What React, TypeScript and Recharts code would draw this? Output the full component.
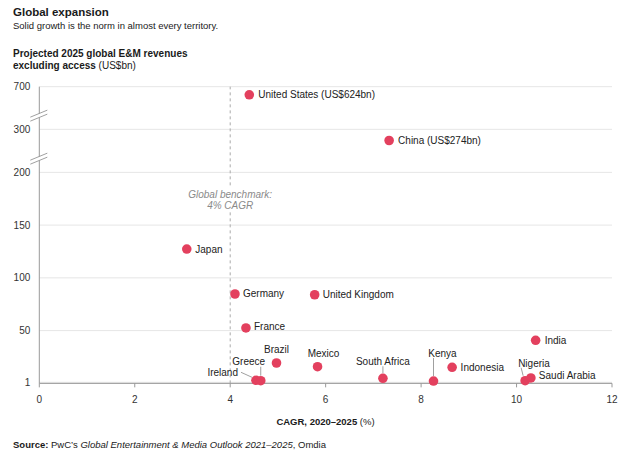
import React from "react";
import {
  ScatterChart,
  Scatter,
  XAxis,
  YAxis,
  CartesianGrid,
  ReferenceLine,
  ReferenceDot,
} from "recharts";

// CAGR 2020–2025 (%) and projected 2025 revenues (US$bn)
const countries = [
  "United States",
  "China",
  "Japan",
  "Germany",
  "United Kingdom",
  "France",
  "India",
  "Brazil",
  "Mexico",
  "Indonesia",
  "Kenya",
  "South Africa",
  "Ireland",
  "Greece",
  "Nigeria",
  "Saudi Arabia",
];
const cagr = [4.4, 7.33, 3.09, 4.1, 5.77, 4.33, 10.4, 4.97, 5.83, 8.65, 8.26, 7.2, 4.54, 4.64, 10.18, 10.3];
const revenue = [624, 274, 127.3, 84.7, 84.0, 52.5, 40.8, 19.3, 15.8, 15.2, 2.2, 4.8, 2.9, 2.5, 2.5, 5.1];
const pointLabels = [
  "United States (US$624bn)",
  "China (US$274bn)",
  "Japan",
  "Germany",
  "United Kingdom",
  "France",
  "India",
  "Brazil",
  "Mexico",
  "Indonesia",
  "Kenya",
  "South Africa",
  "Ireland",
  "Greece",
  "Nigeria",
  "Saudi Arabia",
];

const xTicks = [0, 2, 4, 6, 8, 10, 12];
const yTickValues = [1, 50, 100, 150, 200, 300, 700];
const benchmark = 4;

// broken y axis: value -> axis units (linear up to 200, then two squeezed bands)
const yAnchors: [number, number][] = [
  [0, 0],
  [200, 200],
  [300, 240.8],
  [700, 281.2],
];
const toAxis = (v: number) => {
  for (let i = 1; i < yAnchors.length; i++) {
    const [v0, a0] = yAnchors[i - 1];
    const [v1, a1] = yAnchors[i];
    if (v <= v1 || i === yAnchors.length - 1) {
      return a0 + ((v - v0) / (v1 - v0)) * (a1 - a0);
    }
  }
  return v;
};
const yBreaks = [toAxis(233), toAxis(433)];

const data = countries.map((name, i) => ({
  name,
  label: pointLabels[i],
  x: cagr[i],
  y: toAxis(revenue[i]),
}));

const RED = "#E3405E";
const FONT = "'Liberation Sans', Arial, sans-serif";

type Place = { dx: number; dy: number; anchor: "start" | "middle" | "end"; leader?: number[] };
const place: Record<string, Place> = {
  "United States": { dx: 9, dy: 0, anchor: "start" },
  China: { dx: 9, dy: 0, anchor: "start" },
  Japan: { dx: 8.5, dy: 0, anchor: "start" },
  Germany: { dx: 8, dy: 0, anchor: "start" },
  "United Kingdom": { dx: 8, dy: 0, anchor: "start" },
  France: { dx: 8, dy: -1.5, anchor: "start" },
  India: { dx: 9, dy: 0, anchor: "start" },
  Indonesia: { dx: 8.5, dy: 0, anchor: "start" },
  "Saudi Arabia": { dx: 8, dy: -2.5, anchor: "start" },
  Brazil: { dx: 0, dy: -13, anchor: "middle" },
  Mexico: { dx: 6, dy: -13, anchor: "middle" },
  Greece: { dx: -12, dy: -19, anchor: "middle", leader: [0, -14, 0, -5] },
  Ireland: { dx: -18, dy: -8, anchor: "end", leader: [-15, -8, -4, -3] },
  "South Africa": { dx: 0, dy: -17, anchor: "middle", leader: [0, -12, 0, -5] },
  Kenya: { dx: 9, dy: -28, anchor: "middle", leader: [0, -23, 0, -5] },
  Nigeria: { dx: -7, dy: -17.5, anchor: "start", leader: [-4, -13, -2, -5] },
};

const PointMark = (props: any) => {
  const { cx, cy, payload } = props;
  const p = place[payload.name];
  return (
    <g>
      {p.leader && (
        <line
          x1={cx + p.leader[0]}
          y1={cy + p.leader[1]}
          x2={cx + p.leader[2]}
          y2={cy + p.leader[3]}
          stroke="#888"
          strokeWidth={0.8}
        />
      )}
      <circle cx={cx} cy={cy} r={4.8} fill={RED} />
      <text
        x={cx + p.dx}
        y={cy + p.dy}
        dy="0.35em"
        textAnchor={p.anchor}
        fontSize={10}
        fill="#222"
        fontFamily={FONT}
      >
        {payload.label}
      </text>
    </g>
  );
};

const BreakMark = (props: any) => {
  const { cx, cy } = props;
  return (
    <g>
      <polygon
        points={`${cx - 9},${cy + 2} ${cx + 8},${cy - 5} ${cx + 8},${cy - 1} ${cx - 9},${cy + 6}`}
        fill="#fff"
      />
      <line x1={cx - 9} y1={cy + 2} x2={cx + 8} y2={cy - 5} stroke="#888" strokeWidth={0.8} />
      <line x1={cx - 9} y1={cy + 6} x2={cx + 8} y2={cy - 1} stroke="#888" strokeWidth={0.8} />
    </g>
  );
};

const BenchmarkLabel = (props: any) => {
  const { cx, cy } = props;
  return (
    <g>
      <rect x={cx - 45} y={cy - 12} width={90} height={24} fill="#fff" />
      <text x={cx} y={cy - 5} dy="0.35em" textAnchor="middle" fontSize={10} fontStyle="italic" fill="#8a8a8a" fontFamily={FONT}>
        Global benchmark:
      </text>
      <text x={cx} y={cy + 6} dy="0.35em" textAnchor="middle" fontSize={10} fontStyle="italic" fill="#8a8a8a" fontFamily={FONT}>
        {benchmark}% CAGR
      </text>
    </g>
  );
};

export default function App() {
  return (
    <div
      style={{
        position: "absolute",
        left: 0,
        top: 0,
        width: 640,
        height: 458,
        background: "#fff",
        fontFamily: FONT,
        color: "#1a1a1a",
      }}
    >
      <div style={{ position: "absolute", left: 13, top: 6, fontSize: 11.5, fontWeight: 700 }}>Global expansion</div>
      <div style={{ position: "absolute", left: 13, top: 20, fontSize: 9.5 }}>
        Solid growth is the norm in almost every territory.
      </div>
      <div style={{ position: "absolute", left: 13, top: 48, fontSize: 10, lineHeight: "12px" }}>
        <b>Projected 2025 global E&amp;M revenues</b>
        <br />
        <b>excluding access</b> (US$bn)
      </div>

      <ScatterChart width={640} height={458} margin={{ top: 86.7, right: 28, bottom: 44.65, left: 0 }}>
        <CartesianGrid vertical={false} stroke="#e6e6e6" />
        <XAxis
          type="number"
          dataKey="x"
          domain={[0, 12]}
          ticks={xTicks}
          height={30}
          tickSize={4}
          tickMargin={9}
          stroke="#999"
          tick={{ fill: "#333", fontSize: 10, fontFamily: FONT }}
        />
        <YAxis
          type="number"
          dataKey="y"
          domain={[0, toAxis(700)]}
          ticks={yTickValues.map(toAxis)}
          tickFormatter={(_v: number, i: number) => String(yTickValues[i])}
          width={39.3}
          tickSize={0}
          tickLine={false}
          tickMargin={9}
          stroke="#999"
          tick={{ fill: "#333", fontSize: 10, fontFamily: FONT }}
        />
        <ReferenceLine x={benchmark} stroke="#aaa" strokeDasharray="3 3" />
        <ReferenceDot x={benchmark} y={toAxis(174)} r={0} shape={BenchmarkLabel} />
        {yBreaks.map((b) => (
          <ReferenceDot key={b} x={0} y={b} r={0} shape={BreakMark} />
        ))}
        <Scatter data={data} isAnimationActive={false} shape={PointMark} />
      </ScatterChart>

      <div style={{ position: "absolute", left: 0, width: 651, top: 416, textAlign: "center", fontSize: 9.5 }}>
        <b>CAGR, 2020–2025</b> (%)
      </div>
      <div style={{ position: "absolute", left: 13, top: 439, fontSize: 9.5 }}>
        <b>Source:</b> PwC’s <i>Global Entertainment &amp; Media Outlook 2021–2025</i>, Omdia
      </div>
    </div>
  );
}
